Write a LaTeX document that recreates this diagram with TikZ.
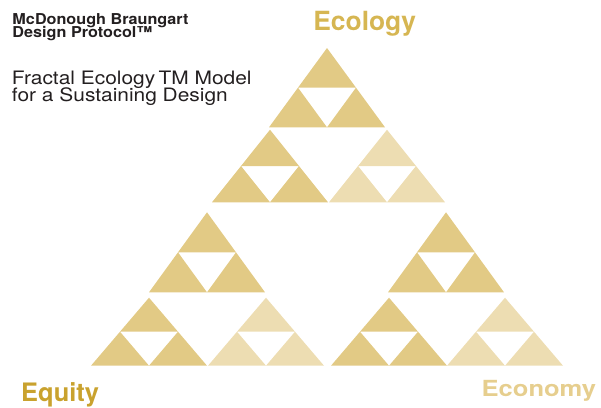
\documentclass[tikz,border=0pt]{standalone}
\usepackage{fontspec}
\setmainfont{TeX Gyre Heros}
\usepackage{tikz}

\definecolor{golddark}{RGB}{226,202,133}
\definecolor{goldlight}{RGB}{237,221,178}
\definecolor{ecologygold}{RGB}{214,182,82}
\definecolor{equitygold}{RGB}{201,162,46}
\definecolor{economygold}{RGB}{230,206,142}
\definecolor{inkgrey}{RGB}{35,31,32}

\begin{document}
\begin{tikzpicture}[x=1pt,y=-1pt,
  every node/.style={inner sep=0pt,anchor=base west},
  brand/.style={font=\fontsize{15}{15}\selectfont\bfseries,text=inkgrey},
  caption/.style={font=\fontsize{18.5}{18.5}\selectfont,text=inkgrey},
  corner/.style={font=\fontsize{#1}{#1}\selectfont\bfseries}]
\useasboundingbox (0,0) rectangle (601,407);

\path (12.3,24) node (brandtop) [brand] {\scalebox{1.08}[1]{McDonough Braungart}};
\path (12.3,37.7) node (brandbot) [brand] {\scalebox{1.08}[1]{Design Protocol™}};
\path (11.8,84) node (captop) [caption] {\scalebox{1.13}[1]{Fractal Ecology\,TM Model}};
\path (11.8,101.7) node (capbot) [caption] {\scalebox{1.13}[1]{for a Sustaining Design}};

\path (364.7,30.7) node (ecology) [corner=26.4,anchor=base,text=ecologygold] {Ecology};
\path (21,401.7) node (equity) [corner=25.4,text=equitygold] {Equity};
\path (481.5,396.7) node (economy) [corner=22.2,text=economygold] {\scalebox{1.15}[1]{Economy}};

% apex x / apex y / height / colour of every second-level triangle,
% the middle one cut out by the even odd rule
\foreach \cx/\ay/\hh/\col in {327/48/79.3/golddark,
    270/129.7/72.6/golddark, 387/129.7/72.6/goldlight,
    207/212.3/80/golddark, 446/212.3/80/golddark,
    149/297.7/68/golddark, 266/297.7/68/goldlight,
    389/297.7/68/golddark, 505/297.7/68/goldlight} {
  \fill [\col,even odd rule] (\cx,\ay) -- (\cx-58,\ay+\hh) -- (\cx+58,\ay+\hh) -- cycle
    (\cx-29,\ay+\hh/2) -- (\cx+29,\ay+\hh/2) -- (\cx,\ay+\hh) -- cycle;
}
\end{tikzpicture}
\end{document}
